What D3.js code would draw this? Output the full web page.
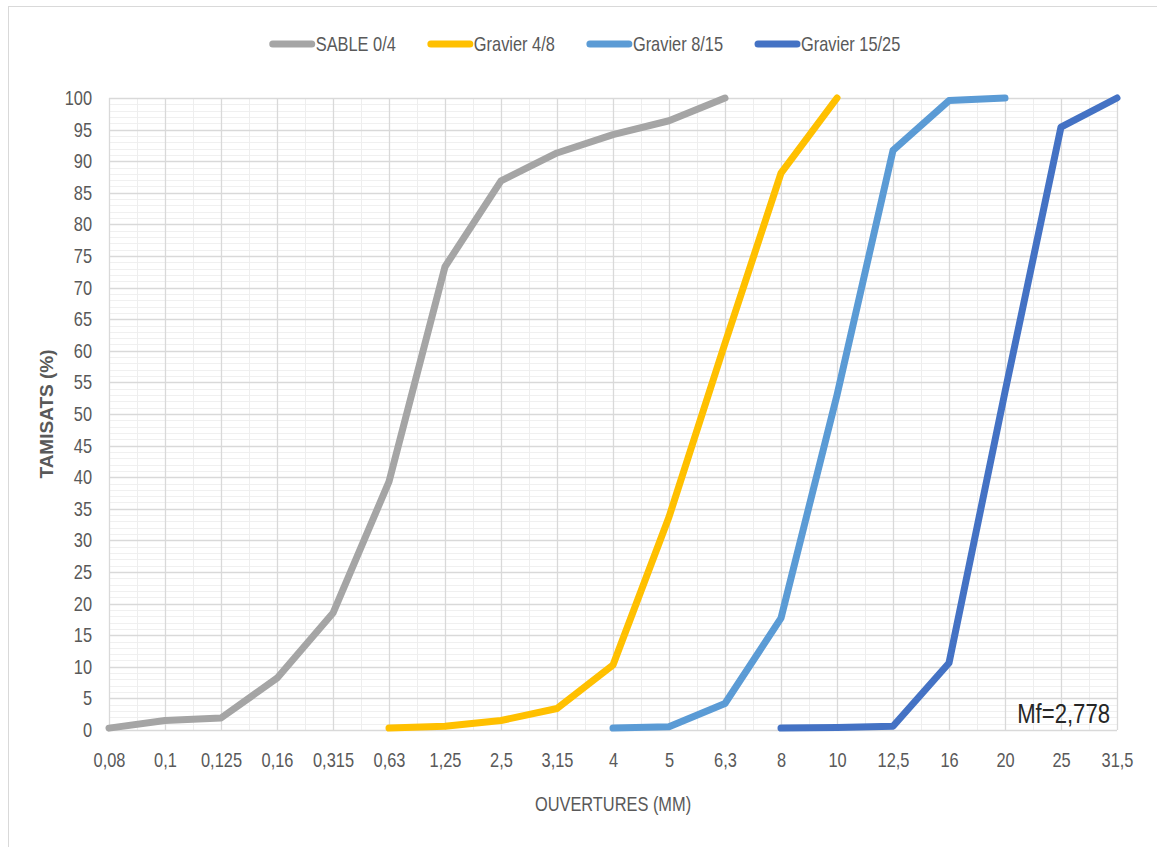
<!DOCTYPE html>
<html>
<head>
<meta charset="utf-8">
<script src="https://cdn.jsdelivr.net/npm/d3@7/dist/d3.min.js"></script>
<style>
  html, body { margin: 0; padding: 0; background: #fff; }
  svg { display: block; }
</style>
</head>
<body>
<svg id="chart" width="1157" height="847"></svg>
<script>
// Sieve openings (mm) on the horizontal axis
const openings = ["0,08","0,1","0,125","0,16","0,315","0,63","1,25","2,5","3,15","4","5","6,3","8","10","12,5","16","20","25","31,5"];

// Cumulative passing (%) per sieve; null where the aggregate was not sieved
const sable04    = [0.3, 1.5, 1.9, 8.2, 18.5, 39.3, 73.3, 86.9, 91.3, 94.2, 96.4, 100, null, null, null, null, null, null, null];
const gravier48  = [null, null, null, null, null, 0.3, 0.6, 1.5, 3.4, 10.3, 33.7, 61.2, 88.1, 100, null, null, null, null, null];
const gravier815 = [null, null, null, null, null, null, null, null, null, 0.3, 0.5, 4.2, 17.7, 53, 91.7, 99.6, 100, null, null];
const gravier1525= [null, null, null, null, null, null, null, null, null, null, null, null, 0.3, 0.4, 0.6, 10.6, 53.5, 95.4, 100];

const seriesNames  = ["SABLE 0/4", "Gravier 4/8", "Gravier 8/15", "Gravier 15/25"];
const seriesColors = ["#a5a5a5", "#ffc000", "#5b9bd5", "#4472c4"];
const seriesValues = [sable04, gravier48, gravier815, gravier1525];

const yTicks = d3.range(0, 101, 5);
const fineness = "Mf=2,778";

// horizontal text is drawn in a condensed style: regular glyphs squeezed sideways
const FONT = "'Liberation Sans', Arial, sans-serif";
const SQUEEZE = 0.82;

const svg = d3.select("#chart");
const plot = { left: 109, right: 1117, top: 98, bottom: 730 };

// outer chart frame
svg.append("rect")
  .attr("x", 8.5).attr("y", 6.5)
  .attr("width", 1200).attr("height", 900)
  .attr("fill", "#fff").attr("stroke", "#d9d9d9").attr("stroke-width", 1);

const x = d3.scalePoint().domain(openings).range([plot.left, plot.right]).padding(0);
const y = d3.scaleLinear().domain([0, 100]).range([plot.bottom, plot.top]);

const grid = svg.append("g");

// minor horizontal grid (every 1 %)
grid.selectAll("line.hmin").data(d3.range(0, 101, 1).filter(v => v % 5 !== 0))
  .join("line")
  .attr("x1", plot.left).attr("x2", plot.right)
  .attr("y1", d => Math.round(y(d)) + 0.5).attr("y2", d => Math.round(y(d)) + 0.5)
  .attr("stroke", "#f0f0f0").attr("stroke-width", 1);

// minor vertical grid (between sieves)
const step = x.step();
grid.selectAll("line.vmin").data(openings.slice(0, -1))
  .join("line")
  .attr("x1", d => Math.round(x(d) + step / 2) + 0.5).attr("x2", d => Math.round(x(d) + step / 2) + 0.5)
  .attr("y1", plot.top).attr("y2", plot.bottom)
  .attr("stroke", "#eeeeee").attr("stroke-width", 1);

// major horizontal grid (every 5 %)
grid.selectAll("line.hmaj").data(yTicks)
  .join("line")
  .attr("x1", plot.left).attr("x2", plot.right)
  .attr("y1", d => Math.round(y(d)) + 0.5).attr("y2", d => Math.round(y(d)) + 0.5)
  .attr("stroke", "#d9d9d9").attr("stroke-width", 1.3);

// major vertical grid (one per sieve)
grid.selectAll("line.vmaj").data(openings)
  .join("line")
  .attr("x1", d => Math.round(x(d)) + 0.5).attr("x2", d => Math.round(x(d)) + 0.5)
  .attr("y1", plot.top).attr("y2", plot.bottom)
  .attr("stroke", "#d9d9d9").attr("stroke-width", 1.3);

// y axis labels
const yAxis = svg.append("g")
  .attr("transform", `translate(${plot.left},0)`)
  .call(d3.axisLeft(y).tickValues(yTicks).tickSize(0).tickPadding(17));
yAxis.select(".domain").remove();
yAxis.selectAll("text")
  .attr("font-size", 20).attr("fill", "#595959")
  .style("font-family", FONT)
  .attr("x", -17 / SQUEEZE)
  .attr("transform", `scale(${SQUEEZE},1)`);

// x axis labels
const xAxis = svg.append("g")
  .attr("transform", `translate(0,${plot.bottom})`)
  .call(d3.axisBottom(x).tickSize(0).tickPadding(23));
xAxis.select(".domain").remove();
xAxis.selectAll("text")
  .attr("font-size", 20).attr("fill", "#595959")
  .style("font-family", FONT)
  .attr("transform", `scale(${SQUEEZE},1)`);

// axis titles
svg.append("text")
  .attr("transform", `translate(53,${(plot.top + plot.bottom) / 2}) rotate(-90)`)
  .attr("text-anchor", "middle")
  .attr("font-family", FONT)
  .attr("font-weight", "bold")
  .attr("font-size", 19)
  .attr("fill", "#595959")
  .text("TAMISATS (%)");

svg.append("g")
  .attr("transform", `translate(${(plot.left + plot.right) / 2},811) scale(${SQUEEZE},1)`)
  .append("text")
  .attr("text-anchor", "middle")
  .attr("font-family", FONT)
  .attr("font-size", 20)
  .attr("fill", "#595959")
  .text("OUVERTURES (MM)");

// grading curves
const line = d3.line()
  .defined(d => d.v !== null)
  .x(d => x(d.k))
  .y(d => y(d.v));

svg.append("g").selectAll("path")
  .data(seriesValues.map((vals, i) => ({ name: seriesNames[i], color: seriesColors[i], pts: vals.map((v, j) => ({ k: openings[j], v })) })))
  .join("path")
  .attr("d", d => line(d.pts))
  .attr("fill", "none")
  .attr("stroke", d => d.color)
  .attr("stroke-width", 7)
  .attr("stroke-linejoin", "round")
  .attr("stroke-linecap", "round");

// fineness modulus annotation
svg.append("g")
  .attr("transform", `translate(1110,723) scale(${SQUEEZE},1)`)
  .append("text")
  .attr("text-anchor", "end")
  .attr("font-family", FONT)
  .attr("font-size", 27)
  .attr("fill", "#262626")
  .text(fineness);

// legend
const legend = svg.append("g");
const swatch = 45, gapText = 1, gapItem = 32;
const items = seriesNames.map((n, i) => {
  const g = legend.append("g");
  g.append("line")
    .attr("x1", 3).attr("x2", swatch - 3)
    .attr("y1", 0).attr("y2", 0)
    .attr("stroke", seriesColors[i]).attr("stroke-width", 7).attr("stroke-linecap", "round");
  const t = g.append("g")
    .attr("transform", `translate(${swatch + gapText},7) scale(${SQUEEZE},1)`)
    .append("text")
    .attr("font-family", FONT)
    .attr("font-size", 20).attr("fill", "#595959")
    .text(n);
  return { g, w: swatch + gapText + t.node().getComputedTextLength() * SQUEEZE };
});
const totalW = d3.sum(items, d => d.w) + gapItem * (items.length - 1);
let cx = 585 - totalW / 2;
items.forEach(it => {
  it.g.attr("transform", `translate(${cx},44)`);
  cx += it.w + gapItem;
});
</script>
</body>
</html>
